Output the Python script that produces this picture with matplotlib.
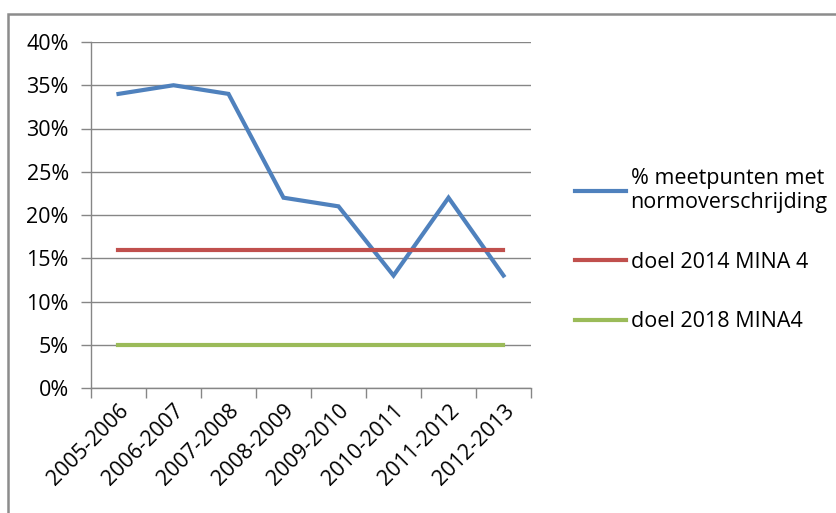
import matplotlib.pyplot as plt
from matplotlib.patches import Rectangle
from matplotlib.ticker import PercentFormatter, MultipleLocator

plt.rcParams['font.family'] = ['Open Sans', 'DejaVu Sans']

seizoenen = ["2005-2006", "2006-2007", "2007-2008", "2008-2009",
             "2009-2010", "2010-2011", "2011-2012", "2012-2013"]
overschrijding = [34, 35, 34, 22, 21, 13, 22, 13]
doel_2014 = [16] * len(seizoenen)
doel_2018 = [5] * len(seizoenen)

blauw = "#4F81BD"
rood = "#C0504D"
groen = "#9BBB59"

fig = plt.figure(figsize=(8.37, 5.13), dpi=100)
ax = fig.add_axes([91 / 837, 1 - 388 / 513, 440 / 837, 346 / 513])

x = range(len(seizoenen))
ax.plot(x, overschrijding, color=blauw, lw=3, solid_joinstyle="miter",
        label="% meetpunten met\nnormoverschrijding")
ax.plot(x, doel_2014, color=rood, lw=3, label="doel 2014 MINA 4")
ax.plot(x, doel_2018, color=groen, lw=3, label="doel 2018 MINA4")

ax.set_xlim(-0.5, len(seizoenen) - 0.5)
ax.set_ylim(0, 40)
ax.yaxis.set_major_locator(MultipleLocator(5))
ax.yaxis.set_major_formatter(PercentFormatter(decimals=0))
ax.set_xticks(list(x))
ax.set_xticklabels(seizoenen, rotation=45, ha="right", rotation_mode="anchor")
ax.set_xticks([i - 0.5 for i in range(len(seizoenen) + 1)], minor=True)
ax.tick_params(axis="x", which="major", length=0, pad=9, labelsize=15.5)
ax.tick_params(axis="x", which="minor", length=7, color="#868686", width=1)
ax.tick_params(axis="y", length=7, color="#868686", width=1, labelsize=15.5, pad=9)

ax.grid(axis="y", color="#868686", lw=1)
ax.set_axisbelow(True)
for side in ("top", "right"):
    ax.spines[side].set_visible(False)
for side in ("left", "bottom"):
    ax.spines[side].set_color("#868686")
    ax.spines[side].set_linewidth(1)

ax.legend(loc="center left", bbox_to_anchor=(566 / 837, 1 - 250 / 513),
          bbox_transform=fig.transFigure, frameon=False, fontsize=15.5,
          handlelength=2.4, handletextpad=0.2, labelspacing=1.8,
          borderaxespad=0)

# chart border, only top and left edges fall inside the image
fig.patches.append(Rectangle((8 / 837, -0.1), 1.2, 1 - 14 / 513 + 0.1,
                             transform=fig.transFigure, fill=False,
                             edgecolor="#8c8c8c", lw=1.8))

fig.savefig("out.png", dpi=100)
